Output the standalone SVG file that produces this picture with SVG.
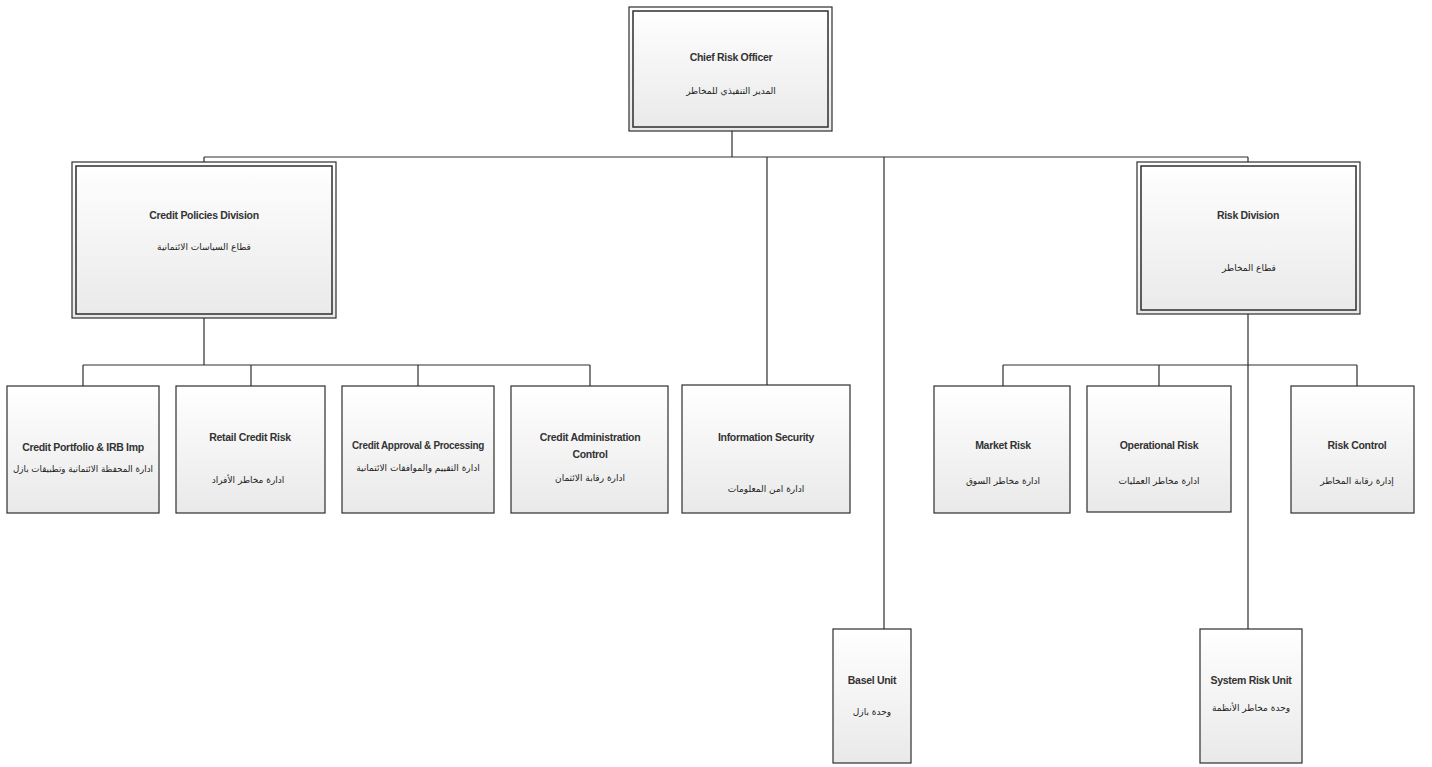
<svg xmlns="http://www.w3.org/2000/svg" width="1432" height="767" viewBox="0 0 1432 767">
<style>
.bg{fill:#ffffff}
.box{fill:url(#g);stroke:#2e2e2e;stroke-width:1.2}
.dbl{fill:none;stroke:#2e2e2e;stroke-width:1.5}
.en{font-family:"Liberation Sans",Arial,sans-serif;font-size:10.5px;letter-spacing:-0.3px;font-weight:bold;fill:#333;text-anchor:middle}
.ar{font-family:"DejaVu Sans",sans-serif;font-size:9px;fill:#222;text-anchor:middle}
.ln{fill:none;stroke:#2e2e2e;stroke-width:1.2}
</style>
<defs>
<linearGradient id="g" x1="0" y1="0" x2="0" y2="1">
<stop offset="0" stop-color="#ffffff"/>
<stop offset="1" stop-color="#e9e9e9"/>
</linearGradient>
</defs>
<rect class="bg" x="0" y="0" width="1432" height="767"/>
<g id="connectors">
<path class="ln" d="M732 131V157M204 157H1248M204 157V162M1248 157V162M767 157V385M884 157V629"/>
<path class="ln" d="M204 318V365M83 365H590M83 365V386M251 365V386M418 365V386M590 365V386"/>
<path class="ln" d="M1248 314V629M1003 365H1357M1003 365V386M1159 365V386M1357 365V386"/>
</g>
<g id="chief">
<rect class="box" x="629" y="7" width="203" height="124"/>
<rect class="dbl" x="633" y="11" width="195" height="116"/>
<text class="en" x="731" y="61">Chief Risk Officer</text>
<text class="ar" x="731" y="94">المدير التنفيذي للمخاطر</text>
</g>
<g id="credit-policies">
<rect class="box" x="72" y="162" width="264" height="156"/>
<rect class="dbl" x="76" y="166" width="256" height="148"/>
<text class="en" x="204" y="219">Credit Policies Division</text>
<text class="ar" x="204" y="250">قطاع السياسات الائتمانية</text>
</g>
<g id="risk-division">
<rect class="box" x="1137" y="162" width="223" height="152"/>
<rect class="dbl" x="1141" y="166" width="215" height="144"/>
<text class="en" x="1248" y="219">Risk Division</text>
<text class="ar" x="1249" y="271">قطاع المخاطر</text>
</g>
<g id="credit-portfolio">
<rect class="box" x="7" y="386" width="152" height="127"/>
<text class="en" x="83" y="451">Credit Portfolio &amp; IRB Imp</text>
<text class="ar" x="83" y="472" textLength="140" lengthAdjust="spacingAndGlyphs">ادارة المحفظة الائتمانية وتطبيقات بازل</text>
</g>
<g id="retail-credit">
<rect class="box" x="176" y="386" width="149" height="127"/>
<text class="en" x="250" y="441">Retail Credit Risk</text>
<text class="ar" x="248" y="483">ادارة مخاطر الأفراد</text>
</g>
<g id="credit-approval">
<rect class="box" x="342" y="386" width="152" height="127"/>
<text class="en" x="418" y="449" textLength="132" lengthAdjust="spacingAndGlyphs">Credit Approval &amp; Processing</text>
<text class="ar" x="418" y="471">ادارة التقييم والموافقات الائتمانية</text>
</g>
<g id="credit-admin">
<rect class="box" x="511" y="386" width="157" height="127"/>
<text class="en" x="590" y="441">Credit Administration</text>
<text class="en" x="590" y="458">Control</text>
<text class="ar" x="590" y="481">ادارة رقابة الائتمان</text>
</g>
<g id="info-security">
<rect class="box" x="682" y="385" width="168" height="128"/>
<text class="en" x="766" y="441">Information Security</text>
<text class="ar" x="766" y="492">ادارة امن المعلومات</text>
</g>
<g id="market-risk">
<rect class="box" x="934" y="386" width="136" height="127"/>
<text class="en" x="1003" y="449">Market Risk</text>
<text class="ar" x="1003" y="484">ادارة مخاطر السوق</text>
</g>
<g id="operational-risk">
<rect class="box" x="1087" y="386" width="144" height="126"/>
<text class="en" x="1159" y="449">Operational Risk</text>
<text class="ar" x="1159" y="484">ادارة مخاطر العمليات</text>
</g>
<g id="risk-control">
<rect class="box" x="1291" y="386" width="123" height="127"/>
<text class="en" x="1357" y="449">Risk Control</text>
<text class="ar" x="1357" y="484">إدارة رقابة المخاطر</text>
</g>
<g id="basel-unit">
<rect class="box" x="833" y="629" width="78" height="134"/>
<text class="en" x="872" y="684">Basel Unit</text>
<text class="ar" x="872" y="715">وحدة بازل</text>
</g>
<g id="system-risk">
<rect class="box" x="1200" y="629" width="102" height="134"/>
<text class="en" x="1251" y="684">System Risk Unit</text>
<text class="ar" x="1251" y="711">وحدة مخاطر الأنظمة</text>
</g>
</svg>
